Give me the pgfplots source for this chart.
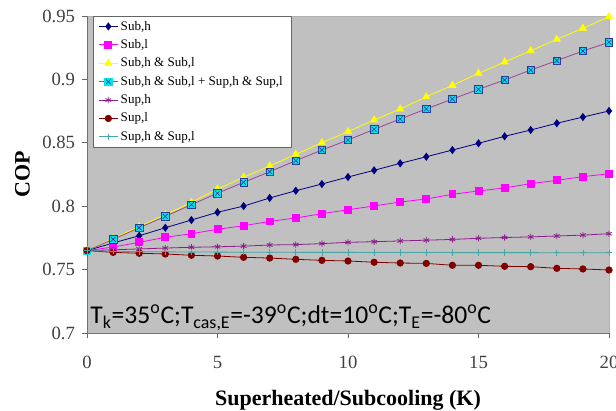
\documentclass[border=0pt]{standalone}
\usepackage{pgfplots}
\pgfplotsset{compat=1.18}
\usepackage{fontspec}
\setmainfont{Liberation Serif}
\newfontfamily\calibri{Carlito}

\definecolor{plotbg}{RGB}{192,192,192}
\definecolor{subh}{RGB}{0,0,128}
\definecolor{subl}{RGB}{255,0,255}
\definecolor{both}{RGB}{255,255,0}
\definecolor{allline}{RGB}{150,70,150}
\definecolor{allfill}{RGB}{0,230,240}
\definecolor{xcol}{RGB}{40,60,150}
\definecolor{suph}{RGB}{140,30,140}
\definecolor{supl}{RGB}{128,0,0}
\definecolor{supb}{RGB}{70,165,165}

% cyan square with a cross in it
\pgfdeclareplotmark{sqx}{%
  \pgfpathrectangle{\pgfpoint{-\pgfplotmarksize}{-\pgfplotmarksize}}{\pgfpoint{2\pgfplotmarksize}{2\pgfplotmarksize}}%
  \pgfusepathqfillstroke
  \pgfsetstrokecolor{xcol}%
  \pgfpathmoveto{\pgfpoint{-0.65\pgfplotmarksize}{-0.65\pgfplotmarksize}}%
  \pgfpathlineto{\pgfpoint{0.65\pgfplotmarksize}{0.65\pgfplotmarksize}}%
  \pgfpathmoveto{\pgfpoint{-0.65\pgfplotmarksize}{0.65\pgfplotmarksize}}%
  \pgfpathlineto{\pgfpoint{0.65\pgfplotmarksize}{-0.65\pgfplotmarksize}}%
  \pgfusepathqstroke}

\pgfplotstableread{
x   subh    subl    both    all     suph    supl    supb
0   0.7650  0.7650  0.7650  0.7650  0.7650  0.7650  0.7650
1   0.7710  0.7678  0.7745  0.7739  0.7656  0.7636  0.7645
2   0.7767  0.7715  0.7840  0.7830  0.7663  0.7629  0.7642
3   0.7830  0.7755  0.7932  0.7920  0.7670  0.7623  0.7640
4   0.7891  0.7783  0.8030  0.8012  0.7676  0.7613  0.7639
5   0.7952  0.7818  0.8135  0.8102  0.7680  0.7607  0.7638
6   0.8001  0.7846  0.8228  0.8188  0.7685  0.7597  0.7637
7   0.8065  0.7880  0.8317  0.8272  0.7694  0.7591  0.7637
8   0.8122  0.7907  0.8409  0.8359  0.7697  0.7581  0.7636
9   0.8175  0.7941  0.8501  0.8443  0.7705  0.7573  0.7636
10  0.8230  0.7972  0.8588  0.8522  0.7715  0.7568  0.7636
11  0.8283  0.8002  0.8680  0.8606  0.7720  0.7558  0.7635
12  0.8338  0.8033  0.8766  0.8688  0.7726  0.7552  0.7635
13  0.8390  0.8057  0.8863  0.8767  0.7732  0.7549  0.7635
14  0.8443  0.8094  0.8953  0.8845  0.7738  0.7534  0.7634
15  0.8496  0.8120  0.9048  0.8922  0.7747  0.7534  0.7634
16  0.8551  0.8144  0.9137  0.8995  0.7753  0.7526  0.7634
17  0.8601  0.8178  0.9226  0.9074  0.7758  0.7523  0.7634
18  0.8654  0.8204  0.9316  0.9148  0.7765  0.7510  0.7633
19  0.8703  0.8233  0.9403  0.9224  0.7772  0.7505  0.7633
20  0.8751  0.8256  0.9494  0.9293  0.7783  0.7497  0.7633
}\cop

\begin{document}
\begin{tikzpicture}
\begin{axis}[
    name=ax,
    scale only axis,
    width=391.5pt, height=237.75pt,
    xmin=0, xmax=20, ymin=0.7, ymax=0.95,
    xtick={0,5,10,15,20},
    ytick={0.7,0.75,0.8,0.85,0.9,0.95},
    yticklabel style={/pgf/number format/fixed, xshift=-1.5pt},
    xticklabel style={yshift=-10pt},
    scaled y ticks=false,
    /pgf/number format/assume math mode=true,
    tick label style={font=\fontsize{14}{16}\selectfont, color=black!75},
    axis x line*=bottom, axis y line*=left,
    axis line style={black!55,-},
    tick style={black!60, line width=0.6pt},
    tick align=outside,
    major tick length=4pt,
    axis background/.style={fill=plotbg, draw=black!30},
    xlabel={\textbf{Superheated/Subcooling (K)}},
    ylabel={\textbf{COP}},
    label style={font=\fontsize{16.5}{18}\selectfont},
    xlabel style={at={(axis description cs:0.5,0)}, anchor=base, yshift=-54pt},
    ylabel style={at={(axis description cs:0,0.5)}, anchor=center, yshift=48.5pt},
    legend cell align=left,
    legend style={at={(axis description cs:0.0115,1)}, anchor=north west,
        draw=black!60, fill=white, font=\fontsize{9.8}{11.5}\selectfont,
        inner xsep=4pt, inner ysep=1.5pt, row sep=1.5pt},
    legend image code/.code={%
        \draw[mark repeat=2, mark phase=2] plot coordinates {(0pt,0pt) (7pt,0pt) (14pt,0pt)};},
    every axis plot/.append style={line width=0.6pt},
]
\addplot[subh, mark=diamond*, mark size=2.6pt, mark options={fill=subh}] table[y=subh] {\cop};
\addlegendentry{Sub,h}
\addplot[subl, mark=square*, mark size=2.6pt, mark options={fill=subl}] table[y=subl] {\cop};
\addlegendentry{Sub,l}
\addplot[both, mark=triangle*, mark size=3pt, mark options={fill=both}] table[y=both] {\cop};
\addlegendentry{Sub,h \& Sub,l}
\addplot[allline, mark=sqx, mark size=2.8pt, mark options={fill=allfill, draw=allfill, line width=0.5pt}] table[y=all] {\cop};
\addlegendentry{Sub,h \& Sub,l + Sup,h \& Sup,l}
\addplot[suph, mark=asterisk, mark size=2.4pt] table[y=suph] {\cop};
\addlegendentry{Sup,h}
\addplot[supl, mark=*, mark size=2.4pt, mark options={fill=supl}] table[y=supl] {\cop};
\addlegendentry{Sup,l}
\addplot[supb, mark=+, mark size=2.4pt] table[y=supb] {\cop};
\addlegendentry{Sup,h \& Sup,l}
\node[anchor=base west, inner sep=0pt, font=\calibri\fontsize{19.2}{21}\selectfont]
    at (axis cs:0.12,0.7071)
    {T\textsubscript{k}=35\textsuperscript{o}C;T\textsubscript{cas,E}=-39\textsuperscript{o}C;dt=10\textsuperscript{o}C;T\textsubscript{E}=-80\textsuperscript{o}C};
\end{axis}
\pgfresetboundingbox
\path (ax.south west) ++(-65.25pt,-57.75pt) coordinate (bl);
\path (ax.north east) ++(5.25pt,12pt) coordinate (tr);
\useasboundingbox (bl) rectangle (tr);
\end{tikzpicture}
\end{document}
